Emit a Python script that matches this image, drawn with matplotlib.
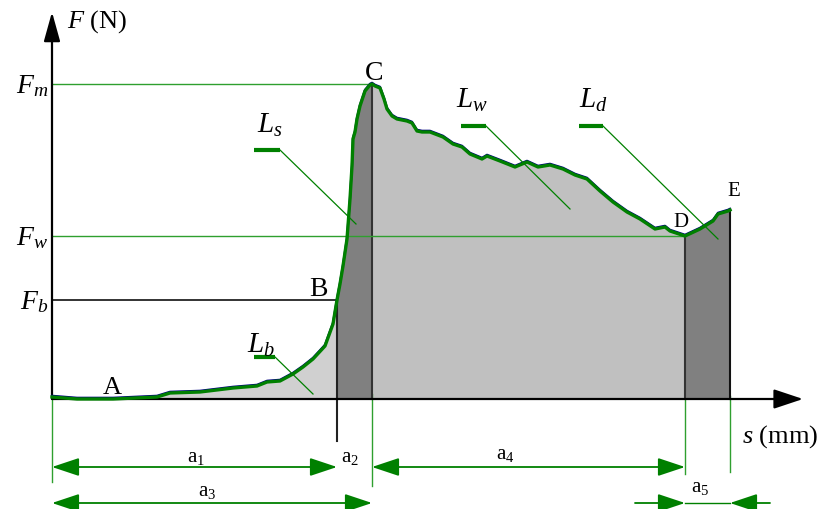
import numpy as np
import matplotlib
matplotlib.use("Agg")
import matplotlib.pyplot as plt

plt.rcParams['mathtext.fontset'] = 'custom'
plt.rcParams['mathtext.rm'] = 'Liberation Serif'
plt.rcParams['mathtext.it'] = 'Liberation Serif:italic'
plt.rcParams['font.family'] = ['Liberation Serif', 'DejaVu Serif']

# ---- data (displacement s, force F; arbitrary units) ----
curve_s = [0, 25, 61, 105, 118, 148, 181, 205, 215, 228, 241, 251, 261, 273, 281, 285,
           288, 291, 295, 298, 300, 301, 303, 305, 308, 313, 318, 320, 323, 328, 332, 335,
           340, 345, 355, 360, 365, 370, 378, 391, 401, 410, 418, 430, 435, 448, 463, 475,
           486, 498, 511, 523, 535, 548, 561, 575, 588, 603, 613, 618, 633, 648, 661, 666,
           676, 678]
curve_F = [2, 0, 0, 2, 6, 7, 11, 13, 17, 18, 25, 32, 40, 53, 75, 99,
           115, 133, 160, 200, 233, 260, 267, 280, 293, 308, 314, 315, 313, 311, 300, 290,
           283, 280, 278, 276, 268, 267, 267, 262, 255, 252, 245, 240, 243, 238, 232, 237,
           232, 234, 230, 224, 220, 208, 197, 187, 180, 170, 172, 168, 163, 170, 178, 185,
           188, 189]

point_names = ['A', 'B', 'C', 'D', 'E']
point_s = [60, 285, 320, 633, 678]          # s of A, B, C, D, E
F_levels = {'F_b': 99, 'F_w': 163, 'F_m': 315}
segment_bounds = [0, 285, 320, 633, 678]     # A..B, B..C, C..D, D..E
segment_colors = ['#d0d0d0', '#808080', '#c0c0c0', '#808080']
dim_names = ['a_1', 'a_2', 'a_4', 'a_3', 'a_5']

s = np.array(curve_s, float)
F = np.array(curve_F, float)

GREEN = '#008000'
LGREEN = '#2f9f2f'

fig = plt.figure(figsize=(8.32, 5.10), dpi=100)
ax = fig.add_axes([0, 0, 1, 1])
ax.set_xlim(-52, 780)
ax.set_ylim(-110, 400)
ax.axis('off')

# filled segments
for lo, hi, c in zip(segment_bounds[:-1], segment_bounds[1:], segment_colors):
    m = (s >= lo) & (s <= hi)
    ax.fill_between(s[m], 0, F[m], color=c, lw=0, zorder=1)

sB, sC, sD, sE = point_s[1:]
FB = np.interp(sB, s, F); FC = np.interp(sC, s, F)
FD = np.interp(sD, s, F); FE = np.interp(sE, s, F)

# vertical separators
ax.plot([sB, sB], [FB, -42], color='#222222', lw=1.5, zorder=3)
ax.plot([sC, sC], [FC, 0], color='#333333', lw=1.5, zorder=3)
ax.plot([sD, sD], [FD, 0], color='#333333', lw=1.5, zorder=3)
ax.plot([sE, sE], [FE, 0], color='#111111', lw=1.5, zorder=3)

# horizontal reference lines
ax.plot([0, sC], [F_levels['F_m']] * 2, color=LGREEN, lw=1.0, zorder=2)
ax.plot([0, sD], [F_levels['F_w']] * 2, color=LGREEN, lw=1.0, zorder=4)
ax.plot([0, sB], [F_levels['F_b']] * 2, color='#111111', lw=1.2, zorder=2)

# curve (raw trace in navy peeking out beneath the green smoothed line)
ax.plot(s, F + 1.2, color='#000080', lw=1.6, zorder=5)
ax.plot(s, F, color=GREEN, lw=2.4, zorder=6, solid_joinstyle='round')

# axes with arrows
ax.annotate('', xy=(751, 0), xytext=(0, 0),
            arrowprops=dict(arrowstyle='-|>,head_length=0.9,head_width=0.3', lw=1.6,
                            color='k', shrinkA=0, shrinkB=0, mutation_scale=20), zorder=4)
ax.annotate('', xy=(0, 387), xytext=(0, 0),
            arrowprops=dict(arrowstyle='-|>,head_length=0.9,head_width=0.25', lw=1.6,
                            color='k', shrinkA=0, shrinkB=0, mutation_scale=20), zorder=4)

# extension lines
for xx, y0, y1 in [(0, 0, -83), (sC, 5, -87), (sD, 0, -75), (sE, 3, -73)]:
    ax.plot([xx, xx], [y0, y1], color=LGREEN, lw=1.0, zorder=2)

arrow_kw = dict(arrowstyle='<|-|>,head_length=1.2,head_width=0.4', lw=1.3, color=GREEN,
                shrinkA=0, shrinkB=0, mutation_scale=14)
row1, row2 = -68, -104
ax.annotate('', xy=(sB, row1), xytext=(0, row1), arrowprops=arrow_kw)
ax.annotate('', xy=(sD, row1), xytext=(sC, row1), arrowprops=arrow_kw)
ax.annotate('', xy=(sC, row2), xytext=(0, row2), arrowprops=arrow_kw)
one_kw = dict(arrowstyle='-|>,head_length=1.2,head_width=0.4', lw=1.3, color=GREEN,
              shrinkA=0, shrinkB=0, mutation_scale=14)
ax.annotate('', xy=(sD, row2), xytext=(sD - 50, row2), arrowprops=one_kw)
ax.annotate('', xy=(sE, row2), xytext=(sE + 40, row2), arrowprops=one_kw)
ax.plot([sD, sE], [row2, row2], color=GREEN, lw=1.0)

dim_pos = [(144, -58), (298, -58), (453, -55), (155, -92), (648, -88)]
for name, (xx, yy) in zip(dim_names, dim_pos):
    ax.text(xx, yy, r'$\mathrm{%s}$' % name, fontsize=15, ha='center', va='center')

# leader labels
leaders = [('L_s', (202, 228), 249, (304, 175), (218, 275)),
           ('L_w', (409, 434), 273, (518, 190), (420, 300)),
           ('L_d', (527, 551), 273, (666, 160), (541, 300)),
           ('L_b', (202, 223), 42, (261, 5), (209, 55))]
for name, (x0, x1), yb, tip, lab in leaders:
    ax.plot([x0, x1], [yb, yb], color=GREEN, lw=3.0, zorder=7, solid_capstyle='butt')
    ax.plot([x1, tip[0]], [yb, tip[1]], color=GREEN, lw=0.9, zorder=7)
    ax.text(lab[0], lab[1], r'$%s$' % name, fontsize=21, ha='center', va='center', zorder=8)

# point labels
pt_pos = [(60, 12, 19), (266, 110, 20), (322, 327, 20), (629, 177, 15), (682, 208, 15)]
for name, (xx, yy, fs) in zip(point_names, pt_pos):
    ax.text(xx, yy, name, fontsize=fs, ha='center', va='center', zorder=8)

# force level labels
for name, val in F_levels.items():
    ax.text(-4, val - 8, r'$%s$' % name, fontsize=20, ha='right', va='baseline')

ax.text(15, 378, r'$F$ (N)', fontsize=19, ha='left', va='center')
ax.text(690, -37, r'$s$ (mm)', fontsize=19, ha='left', va='center')

fig.savefig('out.png', dpi=100)
